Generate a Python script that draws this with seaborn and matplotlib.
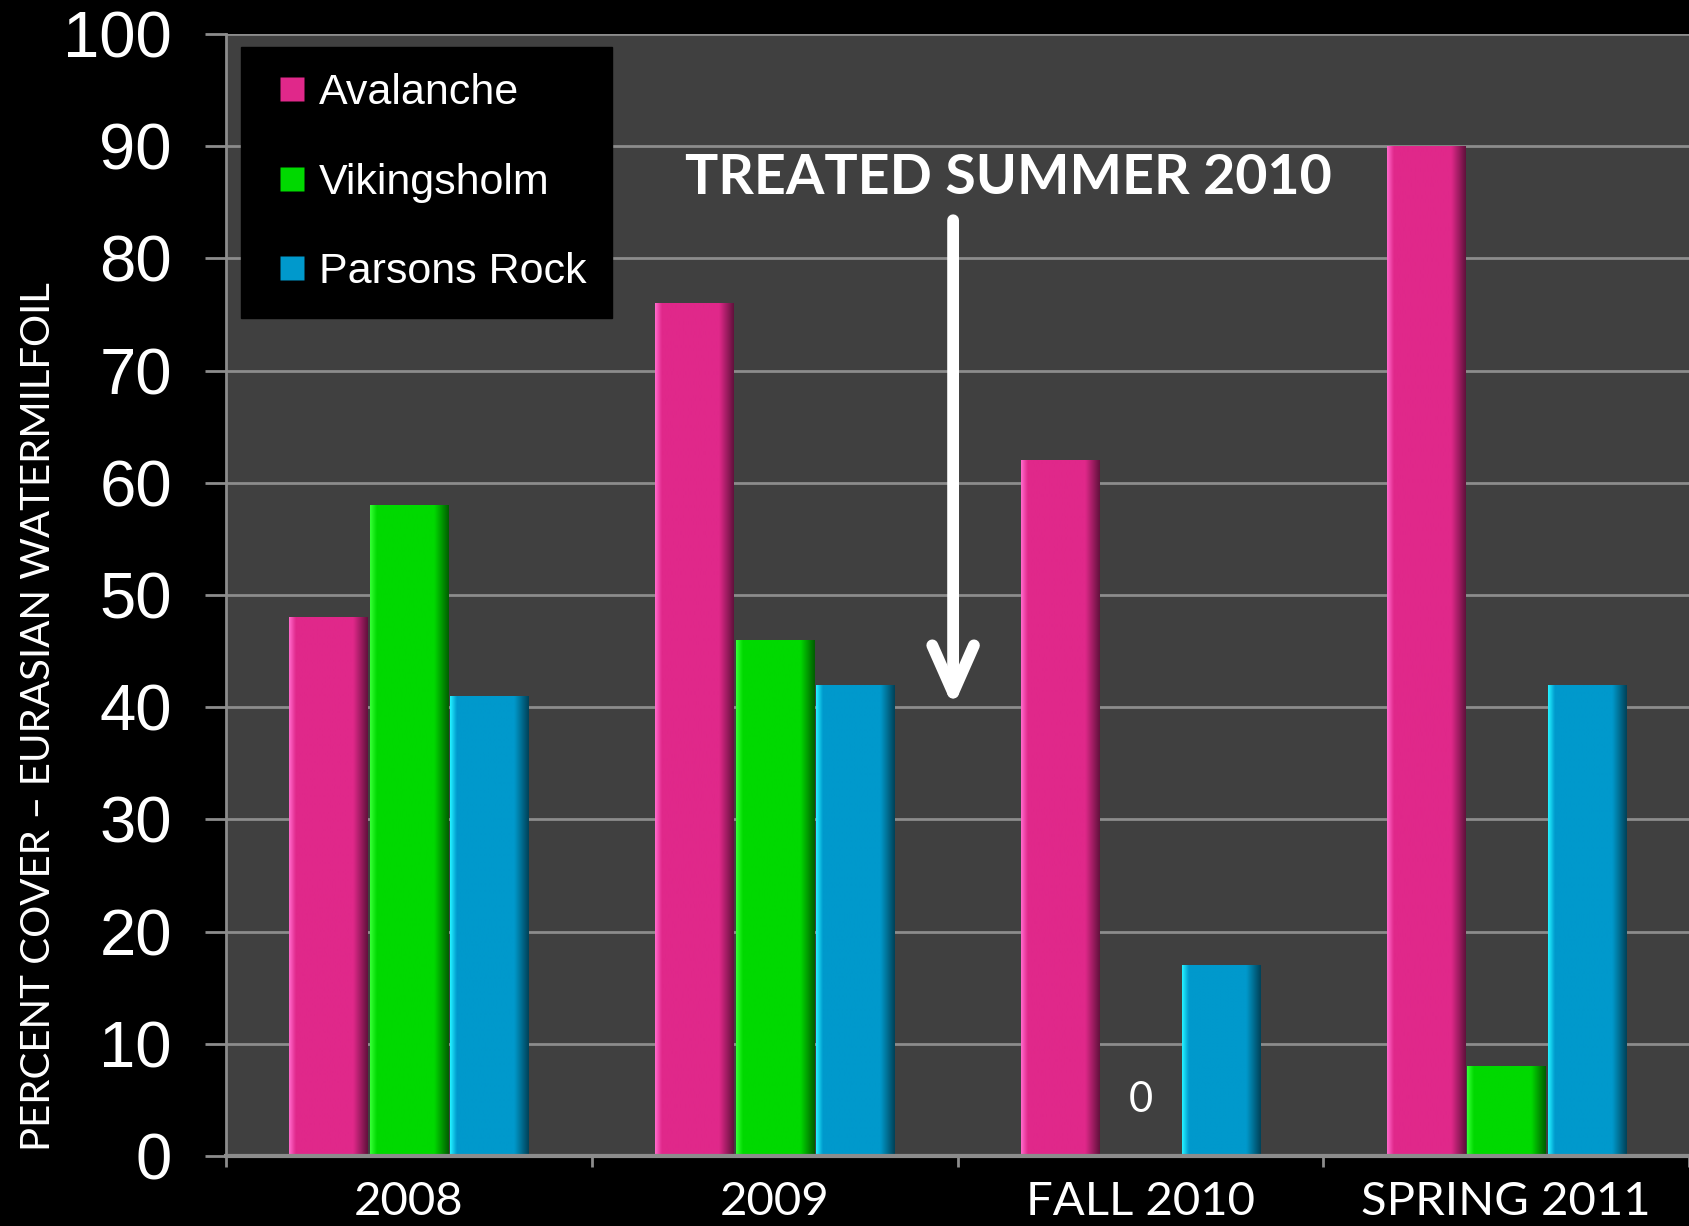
import numpy as np
import pandas as pd
import matplotlib.pyplot as plt
import matplotlib as mpl
import seaborn as sns
from matplotlib.lines import Line2D
from matplotlib.colors import to_rgb

categories = ["2008", "2009", "FALL 2010", "SPRING 2011"]
sites = ["Avalanche", "Vikingsholm", "Parsons Rock"]
avalanche = [48, 76, 62, 90]
vikingsholm = [58, 46, 0, 8]
parsons_rock = [41, 42, 17, 42]
colors = ["#E0288A", "#00D900", "#0099CC"]
highlights = ["#FF66C8", "#33FF33", "#22EEFF"]

df = pd.DataFrame({
    "Period": categories * 3,
    "Site": [s for s in sites for _ in categories],
    "Cover": avalanche + vikingsholm + parsons_rock,
})

sns.set_style("dark")
plt.rcParams["font.family"] = ["Liberation Sans", "DejaVu Sans"]

fig = plt.figure(figsize=(16.89, 12.26), dpi=100, facecolor="black")
ax = fig.add_axes([226/1689, 70/1226, 1 - 226/1689, 1122/1226])
ax.set_facecolor("#404040")

sns.barplot(data=df, x="Period", y="Cover", hue="Site", order=categories,
            hue_order=sites, palette=colors, width=0.66, gap=0.03,
            saturation=1, edgecolor="none", legend=False, ax=ax)

# shaded look: light left edge, dark right edge
for p in list(ax.patches):
    h = p.get_height()
    if h <= 0:
        continue
    base = np.array(to_rgb(p.get_facecolor()))
    idx = [np.allclose(base, to_rgb(c), atol=0.02) for c in colors].index(True)
    hi = np.array(to_rgb(highlights[idx]))
    t = np.linspace(0, 1, 60)
    prof = np.zeros((60, 3))
    for i, s in enumerate(t):
        if s < 0.08:
            prof[i] = hi + (base - hi) * (s / 0.08)
        elif s < 0.82:
            prof[i] = base
        else:
            prof[i] = base * (1 - 0.55 * (s - 0.82) / 0.18)
    img = prof[np.newaxis, :, :]
    x0 = p.get_x()
    w = p.get_width()
    im = ax.imshow(img, extent=[x0, x0 + w, 0, h], aspect="auto",
                   interpolation="bilinear", zorder=p.get_zorder() + 0.1)
    im.set_clip_path(p)

ax.set_xlim(-0.5, 3.5)
ax.set_ylim(0, 100)
ax.set_yticks(range(0, 101, 10))
ax.grid(axis="y", color="#8c8c8c", lw=2)
ax.grid(axis="x", visible=False)
ax.set_axisbelow(True)
for side in ["top", "right"]:
    ax.spines[side].set_visible(False)
ax.spines["left"].set_color("#8c8c8c")
ax.spines["left"].set_linewidth(2)
ax.spines["bottom"].set_color("#8c8c8c")
ax.spines["bottom"].set_linewidth(3)

ax.tick_params(axis="y", left=True, colors="#8c8c8c", labelcolor="white",
               labelsize=47, length=15, width=2, pad=24)
ax.set_xticks([0, 1, 2, 3])
ax.set_xticklabels(categories, fontfamily="Lato", fontsize=34, color="white")
ax.set_xticks([-0.5, 0.5, 1.5, 2.5, 3.5], minor=True)
ax.tick_params(axis="x", which="major", bottom=False, length=0, pad=18)
ax.tick_params(axis="x", which="minor", bottom=True, colors="#8c8c8c",
               length=8, width=2)

ax.set_xlabel("")
ax.set_ylabel("PERCENT COVER \u2013 EURASIAN WATERMILFOIL", color="white",
              fontfamily="Lato", fontsize=29)
ax.yaxis.set_label_coords(-0.1156, 0.392)

ax.text(2.0, 5, "0", color="white", fontfamily="Lato", fontsize=30,
        ha="center", va="center")

ax.annotate("", xy=(1.488, 40.0), xytext=(1.488, 83.4),
            arrowprops=dict(arrowstyle="->,head_length=34,head_width=15",
                            color="white", lw=8.5, mutation_scale=1,
                            shrinkA=0, shrinkB=0, capstyle="round",
                            joinstyle="round"))
ax.text(1.64, 87.2, "TREATED SUMMER 2010", color="white", fontfamily="Lato",
        fontweight="bold", fontsize=40, ha="center", va="center")

handles = [Line2D([], [], ls="none", marker="s", markersize=17,
                  markerfacecolor=c, markeredgecolor="none") for c in colors]
leg = ax.legend(handles, sites, loc="upper left",
                bbox_to_anchor=(0.0103, 0.988), borderaxespad=0,
                fontsize=31, labelspacing=1.15, handlelength=1.15,
                handletextpad=0.05, borderpad=0.6, numpoints=1,
                frameon=True, fancybox=False, facecolor="black",
                edgecolor="black", framealpha=1)
for t in leg.get_texts():
    t.set_color("white")

fig.savefig("out.png", dpi=100, facecolor="black")
